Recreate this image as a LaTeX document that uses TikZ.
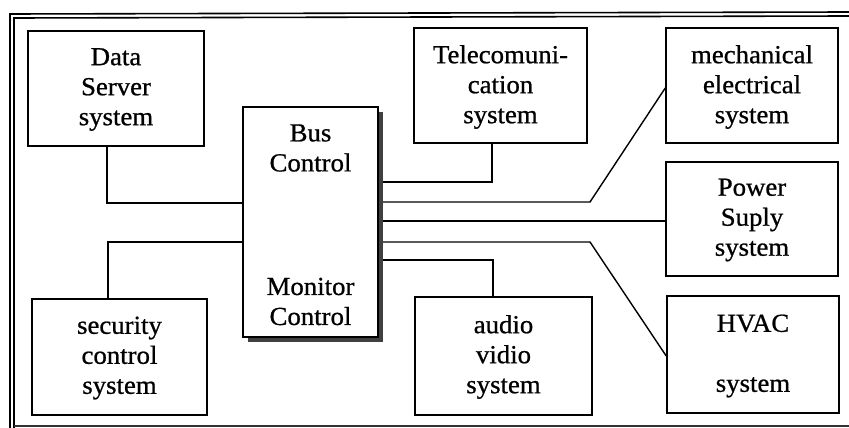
\documentclass[tikz,border=0pt]{standalone}
\usepackage{fontspec}
\setmainfont{Liberation Serif}[FakeStretch=1.03,FakeBold=0.8]
\begin{document}
\begin{tikzpicture}[x=1pt,y=-1pt,
  box/.style={draw,line width=1.5pt,inner sep=0pt},
  txt/.style={align=center,font=\fontsize{26}{30}\selectfont},
  wire/.style={line width=1.4pt},
  frameline/.style={line width=1.6pt}]
\useasboundingbox (0,0) rectangle (849,428);
% frame
\draw[frameline] (10,428) -- (10,14) -- (849,12);
\draw[frameline] (14,428) -- (14,18) -- (849,16);
\draw[line width=1.2pt,black!80] (14,426) -- (849,426);
% boxes
\node[box,minimum width=176,minimum height=115] (ds) at (116,88.5) {};
\node[box,minimum width=173,minimum height=115] (tel) at (500.5,85.5) {};
\node[box,minimum width=172,minimum height=115] (mech) at (752,85.5) {};
\node[box,minimum width=172,minimum height=114] (pow) at (752,219) {};
\node[box,minimum width=172,minimum height=117] (hvac) at (753,354.5) {};
\node[box,minimum width=177,minimum height=118] (av) at (503.5,356) {};
\node[box,minimum width=175,minimum height=116] (sec) at (119.5,357) {};
% bus control with shadow
\fill[black!75] (248,112) rectangle (383,342);
\node[box,fill=white,minimum width=135,minimum height=230] (bus) at (310.5,222) {};
% texts
\node[txt] (dst) at (116,89.5) {Data\\Server\\system};
\node[txt] (telt) at (500.5,87) {Telecomuni-\\cation\\system};
\node[txt] (mecht) at (752,87) {mechanical\\electrical\\system};
\node[txt] (powt) at (752,220) {Power\\Suply\\system};
\node[txt] (hvact) at (753,356) {HVAC\\[30pt]system};
\node[txt] (avt) at (503.5,357) {audio\\vidio\\system};
\node[txt] (sect) at (119.5,358) {security\\control\\system};
\node[txt] (bust) at (310.5,148) {Bus\\Control};
\node[txt] (mont) at (310.5,301.5) {Monitor\\Control};
% connectors
\coordinate (b1) at (383,182);
\coordinate (b2) at (383,202);
\coordinate (b3) at (383,221);
\coordinate (b4) at (383,242);
\coordinate (b5) at (383,260);
\draw[wire] (ds.south -| 107,0) |- (bus.west |- 0,203);
\draw[wire] (b1) -| (tel.south -| 492,0);
\draw[wire] (b2) -- (590,202) -- (mech.west |- 0,88);
\draw[wire] (b3) -- (pow.west |- b3);
\draw[wire] (b4) -- (590,242) -- (hvac.west |- 0,356);
\draw[wire] (b5) -| (av.north -| 493,0);
\draw[wire] (bus.west |- 0,242) -| (sec.north -| 108,0);
\end{tikzpicture}
\end{document}
